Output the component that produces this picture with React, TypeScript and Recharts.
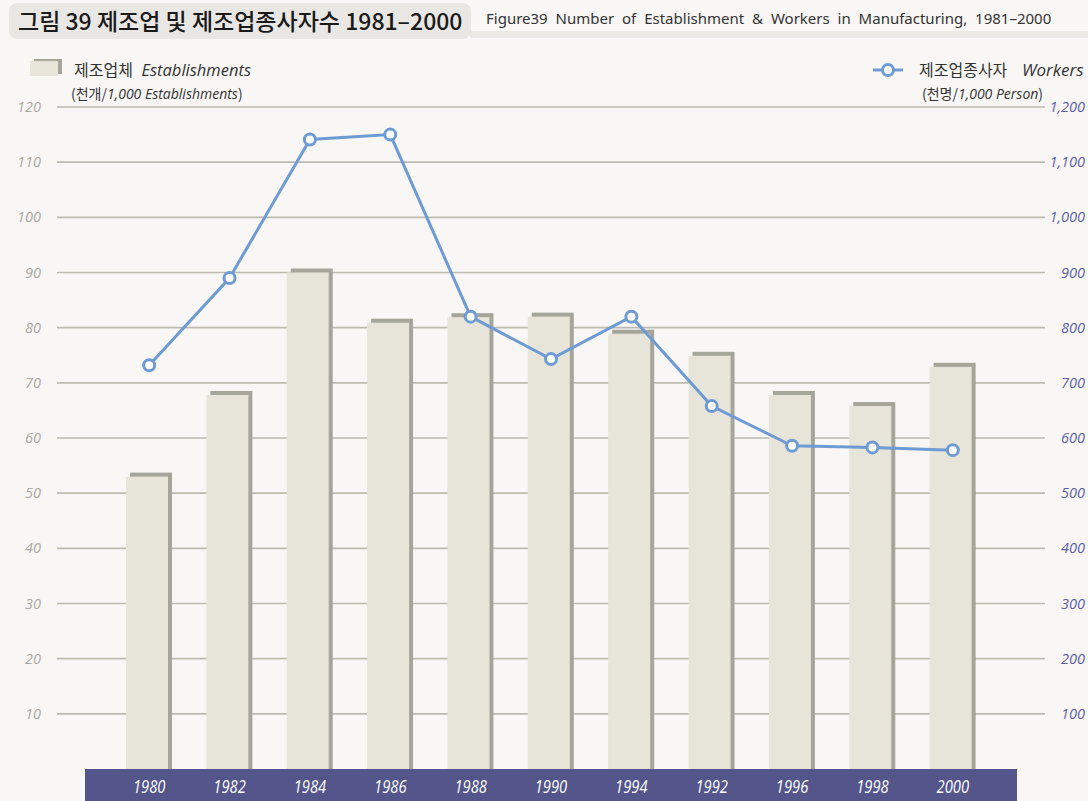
import React from "react";
import { ComposedChart, Bar, Line, XAxis, YAxis, CartesianGrid } from "recharts";

const years = ["1980", "1982", "1984", "1986", "1988", "1990", "1994", "1992", "1996", "1998", "2000"];
const establishments = [53.0, 67.8, 90.0, 80.9, 81.9, 82.0, 78.9, 74.9, 67.8, 65.8, 72.9];
const workers = [732, 890, 1141, 1150, 820, 743, 820, 658, 586, 583, 578];
const leftTicks = [10, 20, 30, 40, 50, 60, 70, 80, 90, 100, 110, 120];
const rightTicks = [100, 200, 300, 400, 500, 600, 700, 800, 900, 1000, 1100, 1200];

const data = years.map((y, i) => ({ year: y, est: establishments[i], wrk: workers[i] }));

const FONT = "'Open Sans', 'Noto Sans', sans-serif";
const KFONT = "'Noto Sans CJK KR', 'Noto Sans', sans-serif";
const BAR_FRONT = "#e7e4d9";
const BAR_SHADE = "#a6a59a";
const LINE = "#6e9bd4";

const BarShape = (props: any) => {
  const { x, y, width, height } = props;
  return (
    <g>
      <rect x={x + 2} y={y - 4} width={width} height={height + 4} fill={BAR_SHADE} />
      <rect x={x - 2} y={y} width={width} height={height} fill={BAR_FRONT} />
    </g>
  );
};

const LeftTick = (props: any) => {
  const { x, y, payload } = props;
  return (
    <text x={x} y={y} dy={5} textAnchor="end" fontFamily={FONT} fontStyle="italic" fontSize={14.5} fill="#aaa8a1">
      {payload.value}
    </text>
  );
};

const RightTick = (props: any) => {
  const { x, y, payload } = props;
  return (
    <text x={x + 32} y={y} dy={5} textAnchor="end" fontFamily={FONT} fontStyle="italic" fontSize={14.5} fill="#5d5ea6">
      {Number(payload.value).toLocaleString("en-US")}
    </text>
  );
};

const XTick = (props: any) => {
  const { x, y, payload } = props;
  return (
    <text x={x} y={y} dy={16} textAnchor="middle" fontFamily={FONT} fontStyle="italic" fontSize={18} fill="#ffffff" transform={`translate(${x},0) scale(0.82,1) translate(${-x},0)`}>
      {payload.value}
    </text>
  );
};

const Dot = (props: any) => {
  const { cx, cy } = props;
  return <circle cx={cx} cy={cy} r={5.5} fill="#ffffff" stroke={LINE} strokeWidth={3} />;
};

export default function App() {
  return (
    <div style={{ position: "absolute", left: 0, top: 0, width: 1088, height: 801, background: "#f8f7f5", overflow: "hidden" }}>
      {/* title */}
      <div style={{ position: "absolute", left: 470, top: 31, width: 618, height: 7, background: "#ebe9e6" }} />
      <div style={{ position: "absolute", left: 9, top: 3, width: 462, height: 36, background: "#e9e7e4", borderRadius: 8 }} />
      <div style={{ position: "absolute", left: 18, top: 3, fontFamily: KFONT, fontSize: 23, fontWeight: 500, color: "#1a1a1a", whiteSpace: "nowrap", letterSpacing: 0 }}>
        그림 39 제조업 및 제조업종사자수 1981–2000
      </div>
      <div style={{ position: "absolute", left: 486, top: 8, fontFamily: "'Noto Sans', sans-serif", fontSize: 15, color: "#333", whiteSpace: "nowrap", wordSpacing: 4 }}>
        Figure39 Number of Establishment &amp; Workers in Manufacturing, 1981–2000
      </div>
      {/* bottom band */}
      <div style={{ position: "absolute", left: 85, top: 769, width: 932, height: 32, background: "#53558b" }} />
      {/* left legend */}
      <div style={{ position: "absolute", left: 34, top: 59, width: 28, height: 15, background: BAR_SHADE }} />
      <div style={{ position: "absolute", left: 30, top: 61, width: 28, height: 15, background: BAR_FRONT }} />
      <div style={{ position: "absolute", left: 74, top: 57, fontFamily: KFONT, fontSize: 16, color: "#333", whiteSpace: "nowrap" }}>
        제조업체 <span style={{ fontFamily: FONT, fontStyle: "italic", marginLeft: 5, fontSize: 16.5 }}>Establishments</span>
      </div>
      <div style={{ position: "absolute", left: 71, top: 83, fontFamily: KFONT, fontSize: 14, color: "#333", whiteSpace: "nowrap" }}>
        (천개/<span style={{ fontFamily: FONT, fontStyle: "italic", fontSize: 14 }}>1,000 Establishments</span>)
      </div>
      {/* right legend */}
      <svg style={{ position: "absolute", left: 870, top: 60 }} width={36} height={20}>
        <line x1={3} y1={10} x2={33} y2={10} stroke={LINE} strokeWidth={3} />
        <circle cx={18} cy={10} r={5.5} fill="#fff" stroke={LINE} strokeWidth={3} />
      </svg>
      <div style={{ position: "absolute", left: 919, top: 57, fontFamily: KFONT, fontSize: 16, color: "#333", whiteSpace: "nowrap" }}>
        제조업종사자 <span style={{ fontFamily: FONT, fontStyle: "italic", marginLeft: 11, fontSize: 17 }}>Workers</span>
      </div>
      <div style={{ position: "absolute", left: 922, top: 83, fontFamily: KFONT, fontSize: 14, color: "#333", whiteSpace: "nowrap" }}>
        (천명/<span style={{ fontFamily: FONT, fontStyle: "italic", fontSize: 14 }}>1,000 Person</span>)
      </div>
      <div style={{ position: "absolute", left: 0, top: 0 }}>
        <ComposedChart width={1088} height={801} data={data} margin={{ top: 107, right: 0, bottom: 0, left: 0 }} barCategoryGap={0}>
          <CartesianGrid vertical={false} stroke="#bdbbb1" strokeWidth={1.6} horizontalValues={leftTicks} yAxisId="left" />
          <XAxis dataKey="year" height={32} axisLine={false} tickLine={false} tick={<XTick />} padding={{ left: 52, right: 52 }} interval={0} />
          <YAxis yAxisId="left" width={57} domain={[0, 120]} ticks={leftTicks} axisLine={false} tickLine={false} tick={<LeftTick />} tickMargin={10} />
          <YAxis yAxisId="right" orientation="right" width={43} domain={[0, 1200]} ticks={rightTicks} axisLine={false} tickLine={false} tick={<RightTick />} />
          <Bar yAxisId="left" dataKey="est" barSize={42} shape={<BarShape />} isAnimationActive={false} />
          <Line yAxisId="right" dataKey="wrk" stroke={LINE} strokeWidth={3} dot={<Dot />} activeDot={false} isAnimationActive={false} />
        </ComposedChart>
      </div>
    </div>
  );
}
